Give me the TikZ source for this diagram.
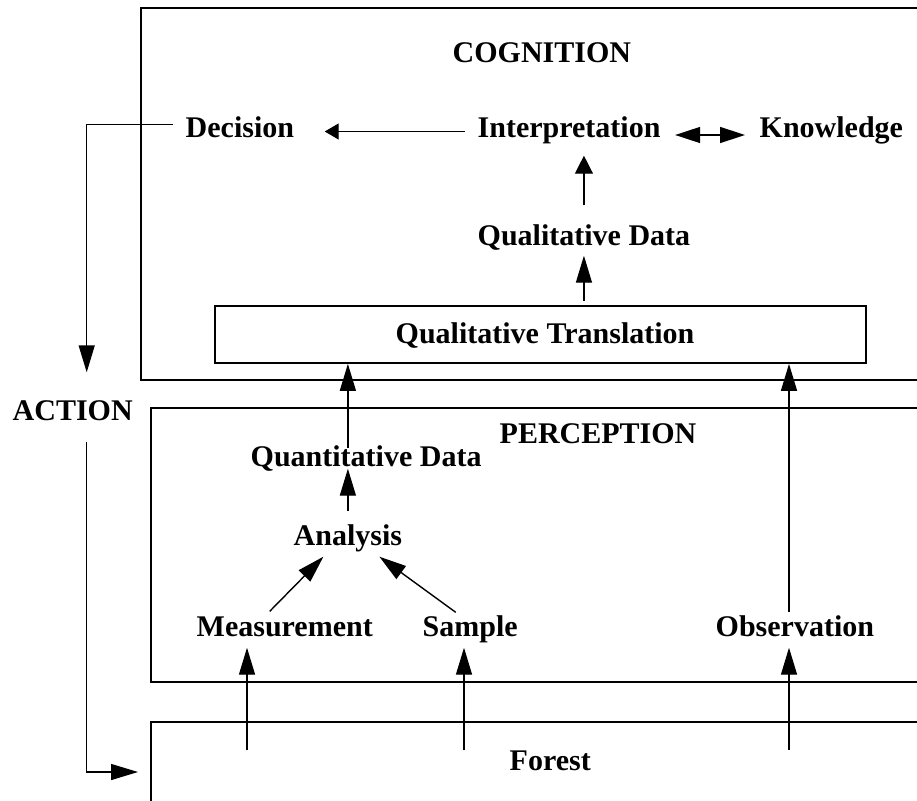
\documentclass[tikz,border=0pt]{standalone}
\usepackage{fontspec}
\setmainfont{Liberation Serif}
\usetikzlibrary{arrows.meta}
\begin{document}
\begin{tikzpicture}[x=1pt,y=-1pt,
  line width=1.4pt,
  layer/.style={line width=1.7pt},
  lbl/.style={inner sep=0pt, font=\fontsize{30}{36}\selectfont\bfseries,
    text height=20pt, text depth=8pt, anchor=base west},
  arr/.style={-{Triangle[length=27pt,width=16pt]}},
  arrm/.style={-{Triangle[length=18pt,width=18pt]}},
  arrs/.style={-{Triangle[length=14pt,width=16pt]}},
  dbl/.style={{Triangle[length=25pt,width=16pt]}-{Triangle[length=25pt,width=16pt]}}]
\useasboundingbox (0,0) rectangle (917,800);

% the three layers (open on the right)
\draw[layer] (918,8) -- (141,8) -- (141,380) -- (918,380);
\draw[layer] (918,408) -- (151,408) -- (151,682) -- (918,682);
\draw[layer] (918,722) -- (151,722) -- (151,801);

% labels
\node[lbl] (cog)   at (452,63)    {COGNITION};
\node[lbl] (dec)   at (185,137.5) {Decision};
\node[lbl] (int)   at (477,137.5) {Interpretation};
\node[lbl] (kno)   at (759,137.5) {Knowledge};
\node[lbl] (qd)    at (477,245)   {Qualitative Data};
\node[draw, layer, minimum width=651pt, minimum height=57pt, inner sep=0pt] (qt) at (540.5,334.5) {};
\node[lbl] (qtl)   at (395,343)   {Qualitative Translation};
\node[lbl] (act)   at (12,420)    {ACTION};
\node[lbl] (per)   at (499,443)   {PERCEPTION};
\node[lbl] (quant) at (250,466)   {Quantitative Data};
\node[lbl] (ana)   at (293,545)   {Analysis};
\node[lbl] (meas)  at (196,636)   {Measurement};
\node[lbl] (samp)  at (422,636)   {Sample};
\node[lbl] (obs)   at (715,636)   {Observation};
\node[lbl] (for)   at (509,770)   {Forest};

% sources inside the forest layer
\coordinate (fm) at (247,750);
\coordinate (fs) at (464,750);
\coordinate (fo) at (789,750);
\coordinate (fl) at (151,772);

% cognition
\draw[arrs] ([xshift=-12pt]int.west) -- ([xshift=30pt]dec.east);
\draw[dbl] ([xshift=14pt,yshift=-3.5pt]int.east) -- ([xshift=-14pt,yshift=-3.5pt]kno.west);
\draw[arrm, shorten <=19pt, shorten >=9.5pt] (qd.north) -- (qd.north |- int.south);
\draw[arr, shorten <=4pt, shorten >=2pt] (qd.south |- qt.north) -- (qd.south);

% perception
\draw[arr, shorten <=-3pt] (ana.north |- quant.north) -- (ana.north |- qt.south);
\draw[arr, shorten <=13pt, shorten >=-6pt] (ana.north) -- (ana.north |- quant.south);
\draw[arr] ([xshift=-15pt,yshift=4pt]meas.north) -- ([xshift=-24.5pt,yshift=-3pt]ana.south);
\draw[arr] ([xshift=-14.5pt,yshift=3pt]samp.north) -- ([xshift=31.5pt,yshift=-3pt]ana.south);
\draw[arr, shorten >=3pt] (fm) -- (fm |- meas.south);
\draw[arr, shorten >=3pt] (fs) -- (fs |- samp.south);
\draw[arr, shorten >=3pt] (fo) -- (fo |- obs.south);
\draw[arr, shorten <=3pt] (fo |- obs.north) -- (fo |- qt.south);

% action loop
\draw[arr] ([xshift=-12pt,yshift=7pt]dec.west) -| ([xshift=14pt,yshift=27pt]act.north);
\draw[arr] ([xshift=14pt,yshift=-13pt]act.south) |- ([xshift=-13pt]fl);
\end{tikzpicture}
\end{document}
